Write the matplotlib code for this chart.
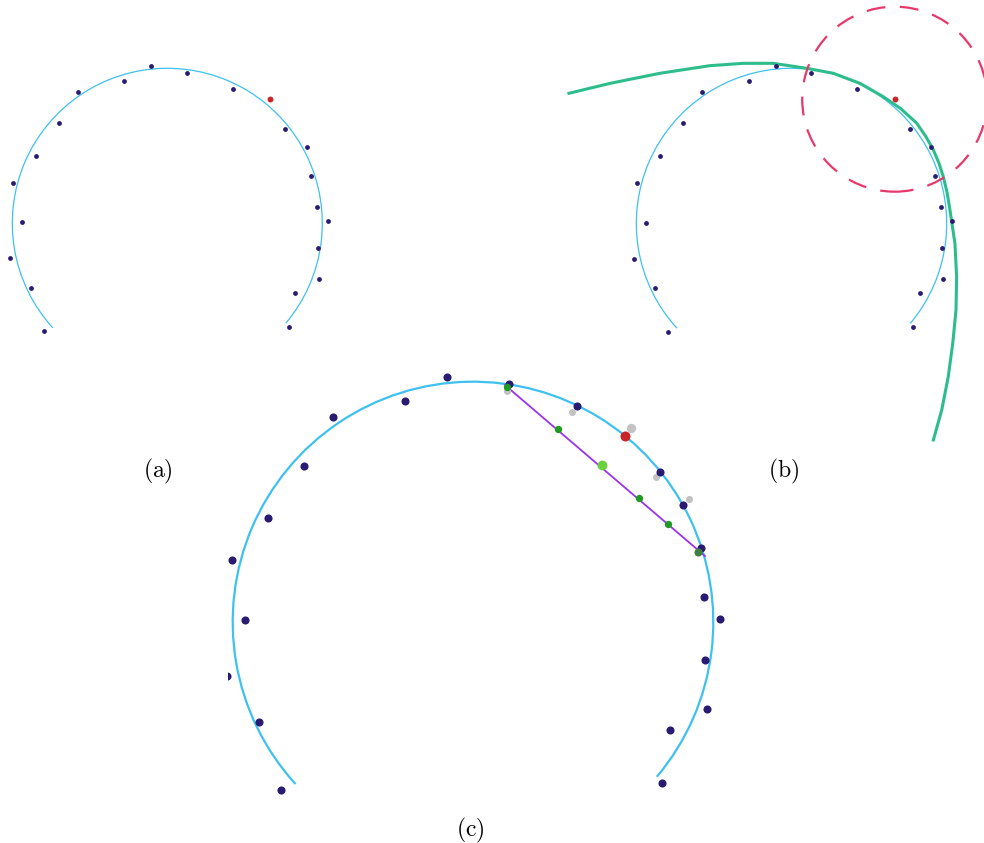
import numpy as np
import matplotlib
matplotlib.use("Agg")
import matplotlib.pyplot as plt
from matplotlib.patches import Arc, Circle

plt.rcParams['mathtext.fontset'] = 'cm'

# --- datos (coordenadas normalizadas: centro del arco en 0,0 y radio 1) ---
# puntos de los paneles (a) y (b)
pts_u = [-0.103, -0.277, -0.578, -0.697, -0.845, -0.994, -0.939, -1.017, -0.881, -0.794,
         0.127, 0.424, 0.761, 0.899, 0.925, 0.964, 1.035, 0.970, 0.977, 0.826, 0.785]
pts_v = [1.015, 0.918, 0.849, 0.647, 0.432, 0.258, 0.006, -0.226, -0.415, -0.697,
         0.968, 0.866, 0.610, 0.494, 0.307, 0.105, 0.015, -0.159, -0.359, -0.448, -0.669]
red_u, red_v = 0.665, 0.801

# arco ajustado (grados)
arc_theta1, arc_theta2 = -40.1, 222.4

# panel (b): curva verde y circulo discontinuo
curve_u = [-1.434, -1.169, -0.847, -0.525, -0.311, -0.117, 0.098, 0.269, 0.441, 0.591,
           0.704, 0.807, 0.864, 0.914, 0.950, 0.978, 1.003, 1.021, 1.053, 1.064, 1.060,
           1.039, 1.010, 0.968, 0.914]
curve_v = [0.839, 0.903, 0.968, 1.017, 1.032, 1.032, 1.000, 0.968, 0.903, 0.817,
           0.740, 0.646, 0.563, 0.474, 0.389, 0.302, 0.197, 0.087, -0.128, -0.343, -0.557,
           -0.772, -0.987, -1.202, -1.395]
circle_r = 0.596

# panel (c): puntos desplazados, posiciones anteriores, cuerda
c_u = [-0.109, -0.284, -0.584, -0.703, -0.852, -1.002, -0.948, -1.022, -0.889, -0.800,
       0.150, 0.434, 0.779, 0.874, 0.950, 0.961, 1.029, 0.965, 0.974, 0.821, 0.785]
c_v = [1.018, 0.921, 0.853, 0.649, 0.434, 0.258, 0.007, -0.226, -0.417, -0.699,
       0.989, 0.900, 0.623, 0.487, 0.307, 0.105, 0.014, -0.159, -0.361, -0.449, -0.671]
c_red_u, c_red_v = 0.634, 0.773
gray_u = [0.140, 0.411, 0.762, 0.898]
gray_v = [0.963, 0.874, 0.602, 0.513]
gray_big_u, gray_big_v = 0.658, 0.806
chord_u = [0.133, 0.965]
chord_v = [0.986, 0.275]
green_u = [0.140, 0.354, 0.691, 0.811]
green_v = [0.979, 0.803, 0.515, 0.407]
lgreen_u, lgreen_v = 0.536, 0.652
dgreen_u, dgreen_v = 0.935, 0.290

# colores
c_arc = "#3ec1f0"
c_dot = "#2a1b72"
c_red = "#c8262a"
c_curve = "#2dbd8b"
c_dash = "#e8386a"
c_purple = "#9a33ee"
c_green = "#1f9a22"
c_lgreen = "#6ad03c"
c_dgreen = "#3e7e3e"
c_gray = "#c3c3c3"

W, H = 984, 843
fig = plt.figure(figsize=(W / 100, H / 100), dpi=100)


def panel(cx, cy, r, xlim, ylim):
    #crea un eje cuyo centro (0,0) cae en el pixel (cx, cy) con radio r en pixeles
    rect = [(cx + xlim[0] * r) / W, 1 - (cy - ylim[0] * r) / H,
            (xlim[1] - xlim[0]) * r / W, (ylim[1] - ylim[0]) * r / H]
    ax = fig.add_axes(rect)
    ax.set_xlim(*xlim)
    ax.set_ylim(*ylim)
    ax.axis("off")
    return ax


# (a)
ax = panel(167.3, 223.3, 155, (-1.07, 1.1), (-0.8, 1.1))
ax.add_patch(Arc((0, 0), 2, 2, theta1=arc_theta1, theta2=arc_theta2, color=c_arc, lw=0.9))
ax.scatter(pts_u, pts_v, s=12, color=c_dot, zorder=3, linewidths=0)
ax.scatter([red_u], [red_v], s=18, color=c_red, zorder=4, linewidths=0)

# (b)
ax = panel(791.5, 223.5, 155.2, (-1.5, 1.5), (-1.5, 1.5))
ax.add_patch(Arc((0, 0), 2, 2, theta1=arc_theta1, theta2=arc_theta2, color=c_arc, lw=0.9))
ax.scatter(pts_u, pts_v, s=12, color=c_dot, zorder=3, linewidths=0)
ax.scatter([red_u], [red_v], s=18, color=c_red, zorder=4, linewidths=0)
ax.plot(curve_u, curve_v, color=c_curve, lw=2.2, zorder=2, solid_joinstyle="round")
ax.add_patch(Circle((red_u, red_v), circle_r, fill=False, edgecolor=c_dash, lw=1.6,
                    linestyle=(0, (8.5, 6.5)), zorder=5))

# (c)
ax = panel(473, 622, 240.3, (-1.019, 1.15), (-0.8, 1.1))
ax.add_patch(Arc((0, 0), 2, 2, theta1=arc_theta1, theta2=arc_theta2, color=c_arc, lw=1.6))
ax.plot(chord_u, chord_v, color=c_purple, lw=1.3, zorder=2)
ax.scatter(gray_u, gray_v, s=26, color=c_gray, zorder=3, linewidths=0)
ax.scatter([gray_big_u], [gray_big_v], s=45, color=c_gray, zorder=3, linewidths=0)
ax.scatter(c_u, c_v, s=34, color=c_dot, zorder=4, linewidths=0)
ax.scatter([c_red_u], [c_red_v], s=52, color=c_red, zorder=5, linewidths=0)
ax.scatter(green_u, green_v, s=28, color=c_green, zorder=6, linewidths=0)
ax.scatter([lgreen_u], [lgreen_v], s=50, color=c_lgreen, zorder=6, linewidths=0)
ax.scatter([dgreen_u], [dgreen_v], s=34, color=c_dgreen, zorder=6, linewidths=0)

# etiquetas
for lbl, px, py in [("(a)", 158.3, 471.7), ("(b)", 783.3, 471.7), ("(c)", 470, 830)]:
    fig.text(px / W, 1 - py / H, r"$\mathrm{" + lbl + "}$", fontsize=17,
             ha="center", va="center")

fig.savefig("out.png", dpi=100)
